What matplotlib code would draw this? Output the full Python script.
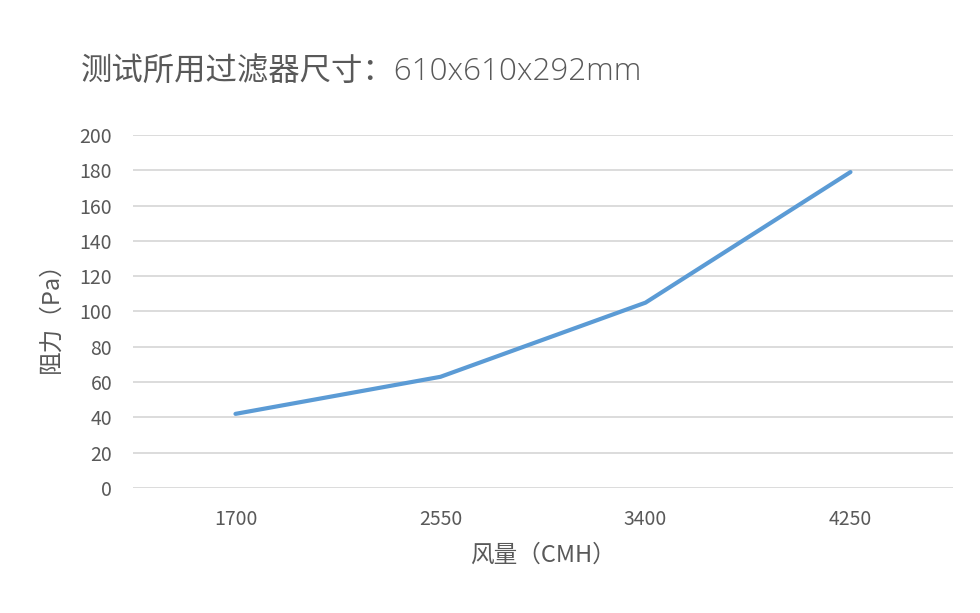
import matplotlib.pyplot as plt
import numpy as np

plt.rcParams['font.family'] = ['Noto Sans CJK SC', 'DejaVu Sans']

# data
airflow = ['1700', '2550', '3400', '4250']
resistance = [42, 63, 105, 179]
yticks = [0, 20, 40, 60, 80, 100, 120, 140, 160, 180, 200]

txt = '#595959'

fig = plt.figure(figsize=(9.8, 6.13), dpi=100)
ax = fig.add_axes([0.1357, 0.2039, 0.8367, 0.5759])

x = np.arange(len(airflow))
ax.plot(x, resistance, color='#5b9bd5', lw=3, solid_capstyle='round', zorder=3)

ax.set_xlim(-0.5, len(airflow) - 0.5)
ax.set_ylim(0, 200)
ax.set_yticks(yticks)
ax.set_xticks(x)
ax.set_xticklabels(airflow)
ax.grid(axis='y', color='#d9d9d9', lw=1.3)
ax.set_axisbelow(True)
for s in ax.spines.values():
    s.set_visible(False)
ax.tick_params(length=0, labelsize=14, labelcolor=txt)
ax.tick_params(axis='x', pad=15)
ax.tick_params(axis='y', pad=15)

ax.set_xlabel('风量（CMH）', fontsize=17, color=txt, labelpad=10)
ax.set_ylabel('阻力（Pa）', fontsize=17, color=txt, labelpad=12)

fig.text(0.082, 0.883, '测试所用过滤器尺寸：610x610x292mm', fontsize=22.6,
         color=txt, va='center', ha='left',
         family=['Open Sans', 'Noto Sans CJK SC'], fontweight='light')

fig.savefig('out.png', dpi=100)
